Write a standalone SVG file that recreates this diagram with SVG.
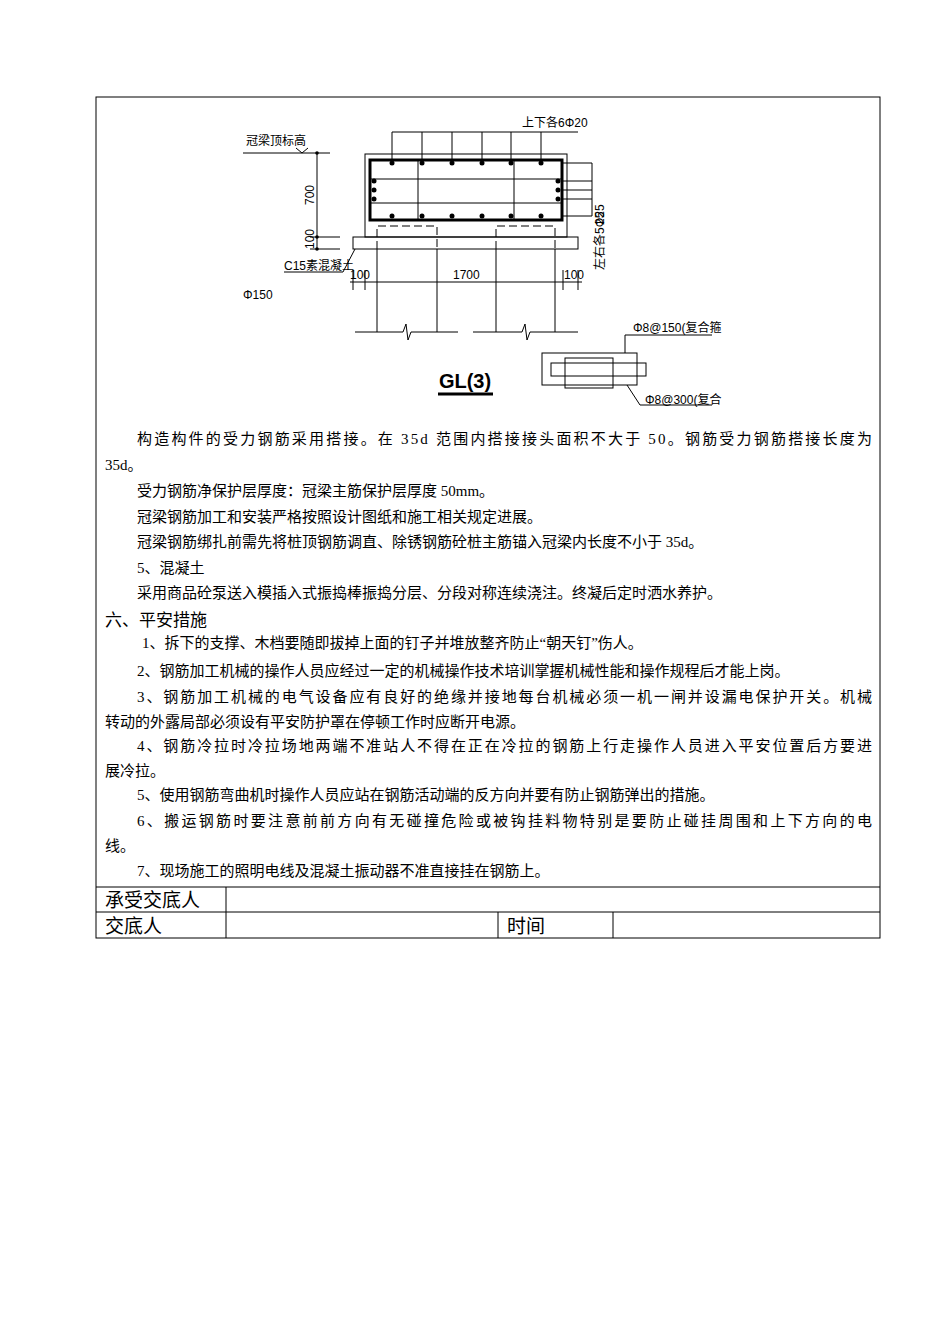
<svg xmlns="http://www.w3.org/2000/svg" width="950" height="1344" viewBox="0 0 950 1344">
<style>
.t{font-family:"Liberation Serif","Noto Sans CJK SC",serif;font-size:15px;fill:#000}
.h{font-family:"Liberation Serif","Noto Sans CJK SC",serif;font-size:19px;fill:#000}
.d{font-family:"Liberation Sans Narrow","Liberation Sans","Noto Sans CJK SC",sans-serif;font-size:12px;fill:#000}
.l{stroke:#000;stroke-width:1;fill:none}
.k{stroke:#000;stroke-width:3;fill:none}
.ds{stroke:#000;stroke-width:1;fill:none;stroke-dasharray:8 4}
</style>
<rect width="950" height="1344" fill="#fff"/>
<g id="frame" class="l">
<rect x="96" y="97" width="784" height="841"/>
<line x1="96" y1="887" x2="880" y2="887"/>
<line x1="96" y1="912" x2="880" y2="912"/>
<line x1="226" y1="887" x2="226" y2="938"/>
<line x1="498" y1="912" x2="498" y2="938"/>
<line x1="613" y1="912" x2="613" y2="938"/>
</g>
<g id="drawing">
<text class="d" x="522" y="127">上下各6Φ20</text>
<path class="l" d="M392 132H578M392 132V163M422 132V163M452 132V163M482 132V163M511 132V163M541 132V163"/>
<rect class="l" x="365" y="154" width="202" height="83"/>
<rect class="k" x="370" y="160" width="192" height="60"/>
<path class="l" d="M370 179H562M370 203H562" stroke-width="2"/>
<path class="l" d="M418 160V220M514 160V220" stroke-width="2"/>
<g fill="#000">
<circle cx="392" cy="163" r="2.5"/><circle cx="422" cy="163" r="2.5"/><circle cx="452" cy="163" r="2.5"/><circle cx="482" cy="163" r="2.5"/><circle cx="511" cy="163" r="2.5"/><circle cx="541" cy="163" r="2.5"/>
<circle cx="392" cy="216" r="2.5"/><circle cx="422" cy="216" r="2.5"/><circle cx="452" cy="216" r="2.5"/><circle cx="482" cy="216" r="2.5"/><circle cx="511" cy="216" r="2.5"/><circle cx="541" cy="216" r="2.5"/>
<circle cx="374" cy="181" r="2.5"/><circle cx="374" cy="190" r="2.5"/><circle cx="374" cy="199" r="2.5"/>
<circle cx="558" cy="181" r="2.5"/><circle cx="558" cy="190" r="2.5"/><circle cx="558" cy="199" r="2.5"/>
</g>
<path class="l" d="M562 163H592M562 181H592M562 190H592M562 199H592M562 216H592M592 163V216"/>
<text class="d" transform="translate(604 270) rotate(-90)">左右各5Φ25</text>
<text class="d" transform="translate(604 225) rotate(-90)">25</text>
<rect class="l" x="353" y="237" width="225" height="12"/>
<path class="ds" d="M377 249V226H437V249M496 249V226H555V249"/>
<path class="l" d="M377 249V332M437 249V332M496 249V332M555 249V332"/>
<path class="l" d="M355 332H403L406 324L408 340L411 332H458M473 332H522L525 324L527 340L530 332H578"/>
<text class="d" x="246" y="145">冠梁顶标高</text>
<path class="l" d="M243 153H330M296 148L302 153L308 148M317 153V249M310 237H340M310 249H340"/>
<g fill="#000"><circle cx="317" cy="153" r="1.8"/><circle cx="317" cy="237" r="1.8"/><circle cx="317" cy="249" r="1.8"/></g>
<text class="d" transform="translate(314 205) rotate(-90)">700</text>
<text class="d" transform="translate(314 249) rotate(-90)">100</text>
<text class="d" x="284" y="270">C15素混凝土</text>
<path class="l" d="M284 272H343L355 249"/>
<path class="l" d="M350 282H582M353 270V290M365 270V290M563 270V290M578 270V290"/>
<text class="d" x="350" y="279">100</text>
<text class="d" x="453" y="279">1700</text>
<text class="d" x="564" y="279">100</text>
<text class="d" x="243" y="299">Φ150</text>
<text x="465" y="388" text-anchor="middle" style="font-family:'Liberation Sans Narrow','Liberation Sans',sans-serif;font-size:20px;font-weight:bold">GL(3)</text>
<line class="k" x1="438" y1="394" x2="493" y2="394"/>
<rect class="l" x="542" y="353" width="95" height="32"/>
<rect class="l" x="551" y="363" width="95" height="13"/>
<rect class="l" x="565" y="358" width="48" height="30"/>
<path class="l" d="M625 353V335H712M627 385L640 405H712"/>
<text class="d" x="633" y="332">Φ8@150(复合箍</text>
<text class="d" x="645" y="404">Φ8@300(复合</text>
</g>
<g id="text">
<text class="t" x="137" y="444" textLength="735" lengthAdjust="spacing">构造构件的受力钢筋采用搭接。在 35d 范围内搭接接头面积不大于 50。钢筋受力钢筋搭接长度为</text>
<text class="t" x="105" y="470">35d。</text>
<text class="t" x="137" y="496">受力钢筋净保护层厚度：冠梁主筋保护层厚度 50mm。</text>
<text class="t" x="137" y="522">冠梁钢筋加工和安装严格按照设计图纸和施工相关规定进展。</text>
<text class="t" x="137" y="547">冠梁钢筋绑扎前需先将桩顶钢筋调直、除锈钢筋砼桩主筋锚入冠梁内长度不小于 35d。</text>
<text class="t" x="137" y="573">5、混凝土</text>
<text class="t" x="137" y="598">采用商品砼泵送入模插入式振捣棒振捣分层、分段对称连续浇注。终凝后定时洒水养护。</text>
<text class="h" x="105" y="626" style="font-size:17px">六、平安措施</text>
<text class="t" x="142" y="648">1、拆下的支撑、木档要随即拔掉上面的钉子并堆放整齐防止“朝天钉”伤人。</text>
<text class="t" x="137" y="676">2、钢筋加工机械的操作人员应经过一定的机械操作技术培训掌握机械性能和操作规程后才能上岗。</text>
<text class="t" x="137" y="702" textLength="735" lengthAdjust="spacing">3、钢筋加工机械的电气设备应有良好的绝缘并接地每台机械必须一机一闸并设漏电保护开关。机械</text>
<text class="t" x="105" y="727">转动的外露局部必须设有平安防护罩在停顿工作时应断开电源。</text>
<text class="t" x="137" y="751" textLength="735" lengthAdjust="spacing">4、钢筋冷拉时冷拉场地两端不准站人不得在正在冷拉的钢筋上行走操作人员进入平安位置后方要进</text>
<text class="t" x="105" y="776">展冷拉。</text>
<text class="t" x="137" y="800">5、使用钢筋弯曲机时操作人员应站在钢筋活动端的反方向并要有防止钢筋弹出的措施。</text>
<text class="t" x="137" y="826" textLength="735" lengthAdjust="spacing">6、搬运钢筋时要注意前前方向有无碰撞危险或被钩挂料物特别是要防止碰挂周围和上下方向的电</text>
<text class="t" x="105" y="851">线。</text>
<text class="t" x="137" y="876">7、现场施工的照明电线及混凝土振动器不准直接挂在钢筋上。</text>
<text class="h" x="105" y="907">承受交底人</text>
<text class="h" x="105" y="933">交底人</text>
<text class="h" x="507" y="933">时间</text>
</g>
</svg>
